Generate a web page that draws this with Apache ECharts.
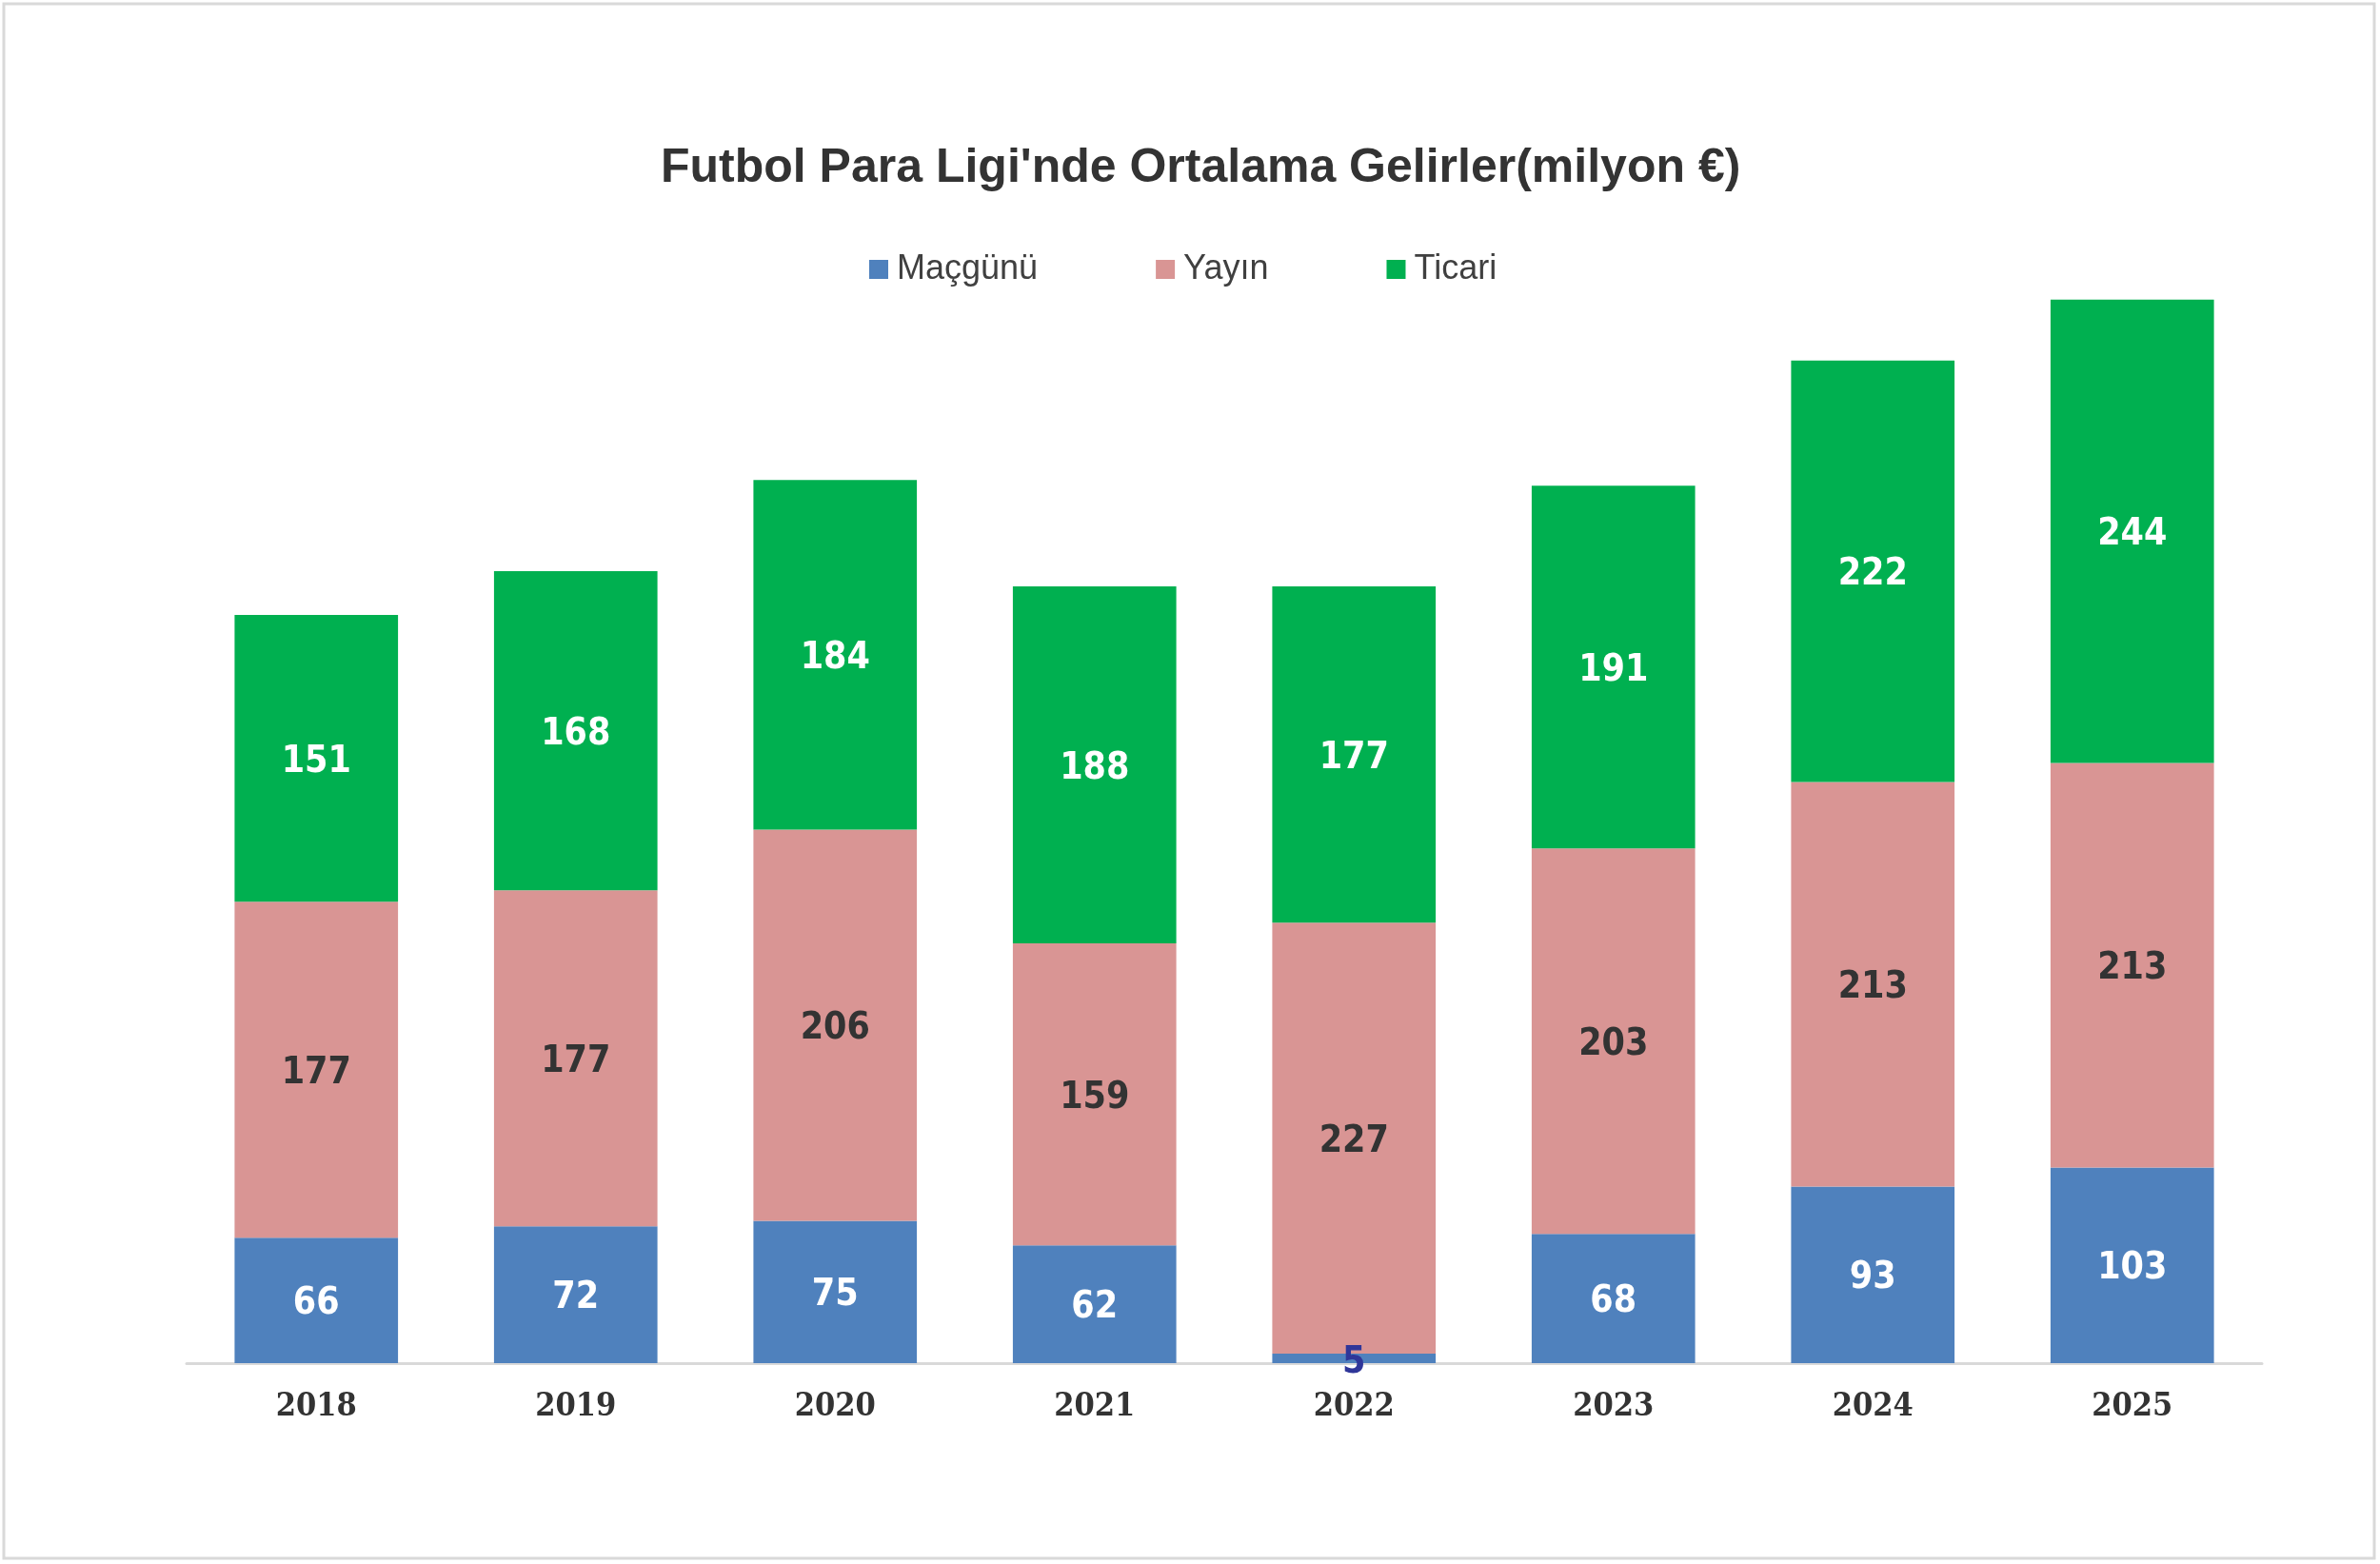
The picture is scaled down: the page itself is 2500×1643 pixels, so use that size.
<!DOCTYPE html>
<html>
<head>
<meta charset="utf-8">
<script src="https://cdn.jsdelivr.net/npm/echarts@6/dist/echarts.min.js"></script>
<style>
html,body{margin:0;padding:0;background:#fff;}
#chart{width:2500px;height:1643px;}
</style>
</head>
<body>
<div id="chart"></div>
<script>
const categories = ['2018','2019','2020','2021','2022','2023','2024','2025'];
const macgunu = [66, 72, 75, 62, 5, 68, 93, 103];
const yayin = [177, 177, 206, 159, 227, 203, 213, 213];
const ticari = [151, 168, 184, 188, 177, 191, 222, 244];
const seriesNames = ['Maçgünü', 'Yayın', 'Ticari'];
const titleText = "Futbol Para Ligi'nde Ortalama Gelirler(milyon €)";

const labelFont = "'DejaVu Sans Condensed', 'DejaVu Sans', Verdana, sans-serif";

const chart = echarts.init(document.getElementById('chart'), null, {renderer: 'canvas'});

function lbl(color) {
  return {
    show: true,
    position: 'inside',
    offset: [0, 4],
    color: color,
    fontFamily: labelFont,
    fontWeight: 'bold',
    fontSize: 39
  };
}

const macData = macgunu.map((v, i) => {
  if (v < 20) {
    return { value: v, label: { color: '#2F3699', offset: [0, 5] } };
  }
  return v;
});

chart.setOption({
  animation: false,
  backgroundColor: '#ffffff',
  graphic: [{
    type: 'rect',
    shape: { x: 4, y: 4, width: 2490, height: 1633 },
    style: { fill: 'none', stroke: '#D9D9D9', lineWidth: 3 },
    silent: true,
    z: -1
  }],
  title: {
    text: titleText,
    left: 689,
    top: 147,
    textStyle: {
      fontFamily: "'Liberation Sans', Arial, sans-serif",
      fontWeight: 'bold',
      fontSize: 50,
      color: '#333333'
    }
  },
  legend: {
    data: seriesNames,
    top: 260,
    left: 908,
    itemWidth: 20,
    itemHeight: 20,
    itemGap: 124,
    icon: 'rect',
    textStyle: {
      fontFamily: "'Liberation Sans', Arial, sans-serif",
      fontSize: 36,
      color: '#404040',
      padding: [0, 0, 0, 4]
    }
  },
  grid: {
    left: 196,
    right: 124,
    top: 235,
    bottom: 211,
    containLabel: false
  },
  xAxis: {
    type: 'category',
    data: categories,
    axisLine: { show: true, lineStyle: { color: '#D9D9D9', width: 3 } },
    axisTick: { show: false },
    axisLabel: {
      margin: 29,
      fontFamily: "'DejaVu Serif Condensed', 'DejaVu Serif', 'Liberation Serif', serif",
      fontWeight: 'bold',
      fontSize: 34,
      color: '#333333'
    }
  },
  yAxis: {
    type: 'value',
    min: 0,
    max: 600,
    show: false,
    splitLine: { show: false }
  },
  series: [
    {
      name: seriesNames[0],
      type: 'bar',
      stack: 'total',
      barCategoryGap: '37%',
      itemStyle: { color: '#4F81BD' },
      label: lbl('#ffffff'),
      data: macData
    },
    {
      name: seriesNames[1],
      type: 'bar',
      stack: 'total',
      barCategoryGap: '37%',
      itemStyle: { color: '#D99594' },
      label: lbl('#333333'),
      data: yayin
    },
    {
      name: seriesNames[2],
      type: 'bar',
      stack: 'total',
      barCategoryGap: '37%',
      itemStyle: { color: '#00B050' },
      label: lbl('#ffffff'),
      data: ticari
    }
  ]
});
</script>
</body>
</html>
